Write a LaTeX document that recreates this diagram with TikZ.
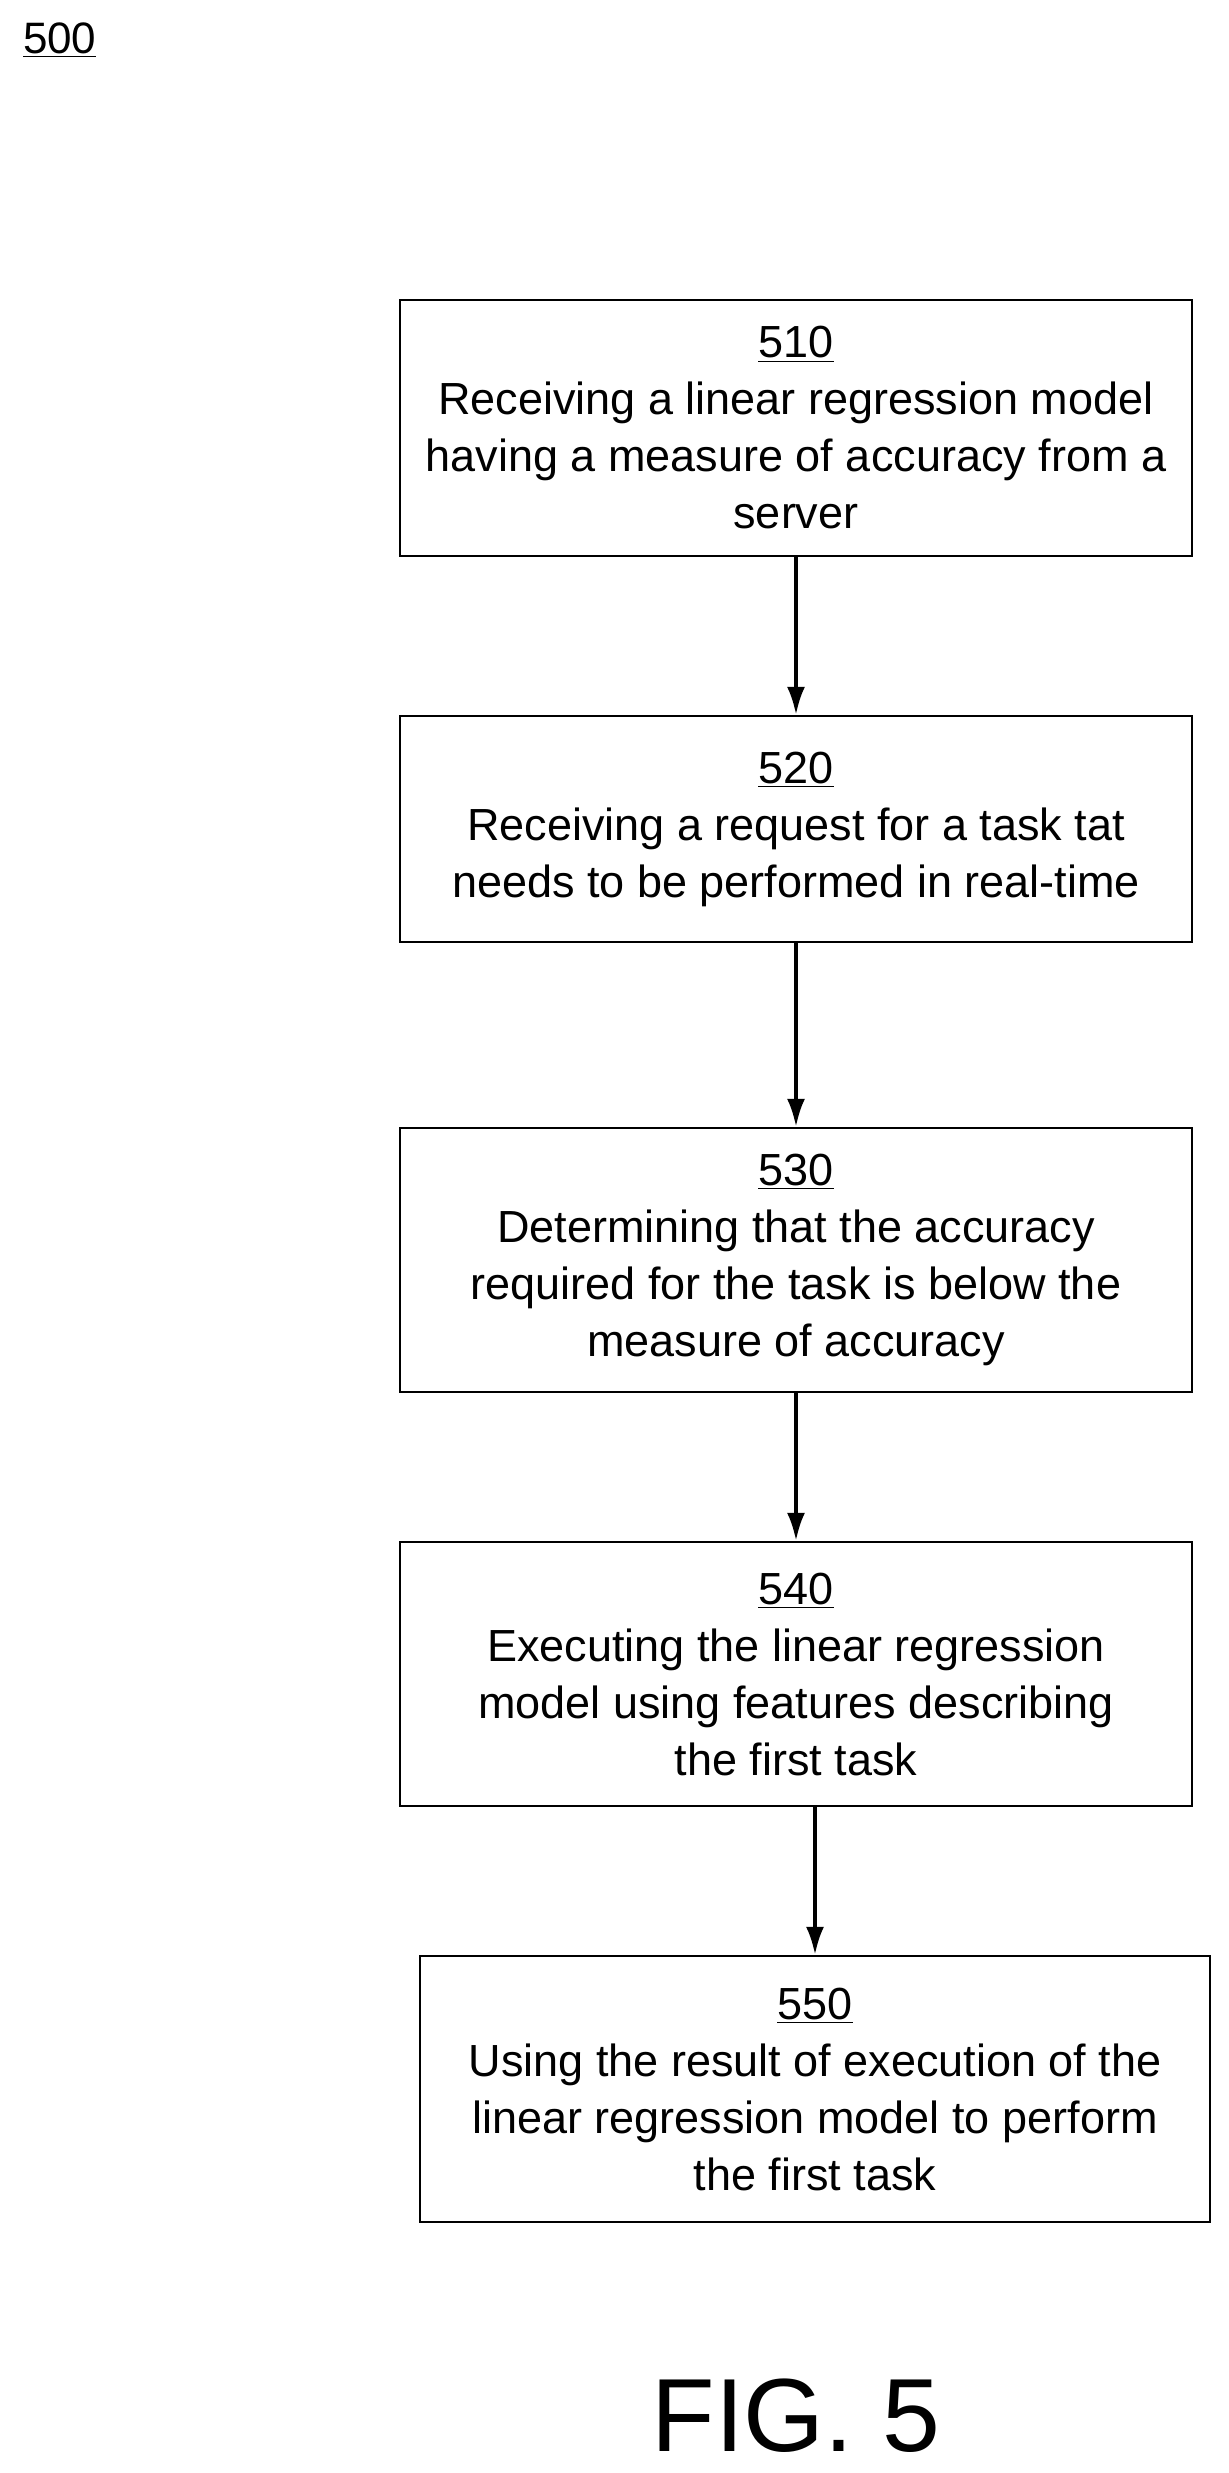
\documentclass[tikz,border=0pt]{standalone}
\usepackage{fontspec}
\setmainfont{Liberation Sans}
\usetikzlibrary{positioning,arrows.meta}
\begin{document}
\begin{tikzpicture}[%
    x=1pt, y=1pt,
    stage/.style={%
        draw,
        line width=1.2pt,
        minimum width=396pt,
        align=center,
        inner sep=4pt,
        font=\fontsize{22.5}{28.5}\selectfont,
    },
    flow/.style={-{Latex[length=14pt,width=9pt]}, line width=1.8pt}
]
\useasboundingbox (0,0) rectangle (614,-1236.5);
    \node[anchor=west, font=\fontsize{22}{26}\selectfont] (fig) at (8,-20) {\underline{500}};
    \node[stage, minimum height=128pt] (s510) at (398,-214)
        {\underline{510}\\Receiving a linear regression model\\having a measure of accuracy from a\\server};
    \node[stage, minimum height=113pt] (s520) at (398,-414.5)
        {\underline{520}\\Receiving a request for a task tat\\needs to be performed in real-time};
    \node[stage, minimum height=132pt] (s530) at (398,-630)
        {\underline{530}\\Determining that the accuracy\\required for the task is below the\\measure of accuracy};
    \node[stage, minimum height=132pt] (s540) at (398,-837)
        {\underline{540}\\Executing the linear regression\\model using features describing\\the first task};
    \node[stage, minimum height=133pt, minimum width=395pt] (s550) at (407.5,-1044.5)
        {\underline{550}\\Using the result of execution of the\\linear regression model to perform\\the first task};
    \foreach \a/\b in {510/520,520/530,530/540}{%
        \draw[flow] (s\a) -- (s\b);
    }
    \draw[flow] (s540.south -| s550.north) -- (s550.north);
    \node[font=\fontsize{52}{56}\selectfont] (cap) at (398,-1208) {FIG. 5};
\end{tikzpicture}
\end{document}
